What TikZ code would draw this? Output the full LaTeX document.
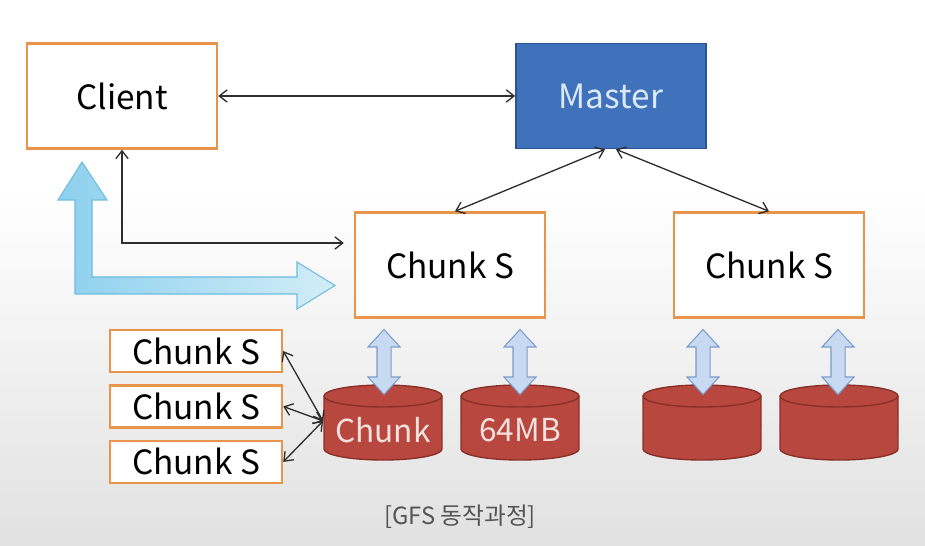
\documentclass[tikz,border=0pt]{standalone}
\usepackage{fontspec}
\setmainfont{Noto Sans CJK KR}
\usetikzlibrary{arrows.meta,positioning,shapes.arrows,calc}
\definecolor{orn}{HTML}{E8944A}
\definecolor{mst}{HTML}{3F72BA}
\definecolor{mstb}{HTML}{2A5592}
\definecolor{mtxt}{HTML}{DCE9F8}
\definecolor{dsk}{HTML}{B8483F}
\definecolor{dskb}{HTML}{8A3029}
\definecolor{dtxt}{HTML}{F5E1DE}
\definecolor{ln}{HTML}{2E2E2E}
\definecolor{upd}{HTML}{C7DAF2}
\definecolor{updb}{HTML}{7D9CCB}
\definecolor{sky}{HTML}{8DD0EE}
\definecolor{skyl}{HTML}{D3EDF7}
\definecolor{skyb}{HTML}{6DBCE0}
\definecolor{bgl}{HTML}{E1E1E1}
\definecolor{capc}{HTML}{555555}
\tikzset{
  box/.style={draw=orn,line width=1.4pt,fill=white,align=center,font=\fontsize{19}{22}\selectfont,minimum width=3.8cm,minimum height=2.1cm},
  sbox/.style={box,minimum width=3.44cm,minimum height=0.84cm,inner sep=0pt},
  mbox/.style={box,draw=mstb,fill=mst,text=mtxt,line width=1pt},
  disk/.style={draw=dskb,fill=dsk,line width=0.8pt},
  dlabel/.style={text=dtxt,font=\fontsize{18}{20}\selectfont,inner sep=0pt},
  io/.style={double arrow,draw=updb,fill=upd,line width=0.6pt,rotate=90,minimum height=1.3cm,inner xsep=0pt,inner ysep=0.13cm,double arrow head extend=0.18cm,double arrow tip angle=85},
  ar/.style={{Straight Barb[length=4.5pt,width=7pt]}-{Straight Barb[length=4.5pt,width=7pt]},draw=ln,line width=0.75pt},
}
\begin{document}
\begin{tikzpicture}[x=0.02cm,y=-0.02cm]
\useasboundingbox (0,0) rectangle (925,546);
% background
\fill[white] (0,0) rectangle (925,190);
\shade[top color=white,bottom color=bgl] (0,190) rectangle (925,546);
% wide bent arrow
\path[draw=skyb,line width=0.6pt,left color=sky,right color=skyl] (82,162) -- (107,200) -- (92,200) -- (92,277) -- (297,277) -- (297,262) -- (335,285.5) -- (297,309) -- (297,294) -- (75,294) -- (75,200) -- (58,200) -- cycle;
% servers
\node[box] (cl) at (122,96) {Client};
\node[mbox] (ms) at (611,96) {Master};
\node[box] (cs1) at (450,265) {Chunk S};
\node[box] (cs2) at (769,265) {Chunk S};
\node[sbox] (r1) at (196,351) {Chunk S};
\node[sbox,below=0.22cm of r1] (r2) {Chunk S};
\node[sbox,below=0.22cm of r2] (r3) {Chunk S};
% disks
\foreach \x/\t/\n in {383/Chunk/d1,520/64MB/d2,702//d3,839//d4}{
  \filldraw[disk] (\x-59,396) -- (\x-59,449) arc[start angle=180,end angle=360,x radius=1.18cm,y radius=0.22cm]
    -- (\x+59,396) arc[start angle=0,end angle=180,x radius=1.18cm,y radius=0.22cm] -- cycle;
  \draw[dskb,line width=0.8pt] (\x-59,396) arc[start angle=180,end angle=360,x radius=1.18cm,y radius=0.22cm];
  \node[dlabel] (\n) at (\x,430) {\t};
}
\coordinate (hub) at (323,421);
\node[io] (u1) at (384,362) {};
\node[io] (u2) at (520,362) {};
\node[io] (u3) at (703,362) {};
\node[io] (u4) at (838,362) {};
% links
\draw[ar] (cl) -- (ms);
\draw[ar] ([xshift=-0.12cm]ms.south) -- ([xshift=0.1cm]cs1.north);
\draw[ar] ([xshift=0.1cm]ms.south) -- (cs2.north);
\draw[ar] (cl.south) |- ($(cs1.west)+(-10,-22)$);
\foreach \r in {r1,r2,r3}
  \draw[ar] (\r.east) -- (hub);
\node[text=capc,font=\fontsize{13.5}{16}\selectfont] (cap) at (460,517) {[GFS 동작과정]};
\end{tikzpicture}
\end{document}
